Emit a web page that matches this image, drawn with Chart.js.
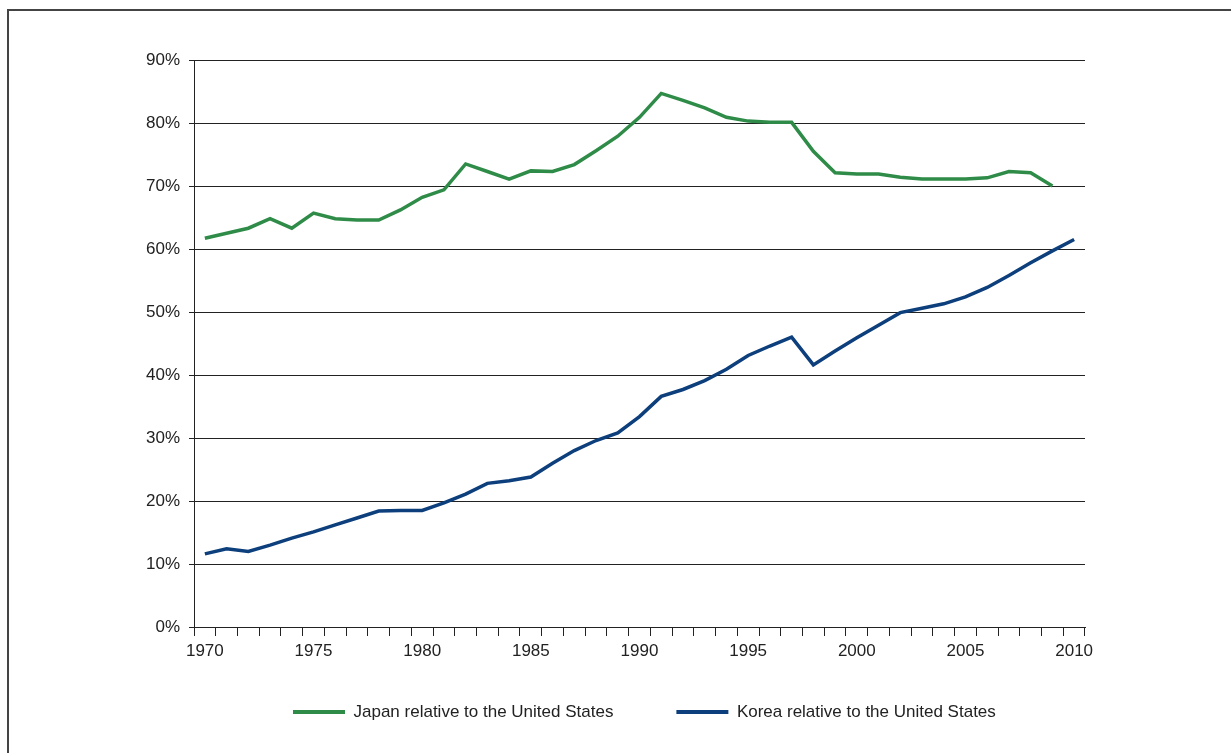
<!DOCTYPE html>
<html>
<head>
<meta charset="utf-8">
<script src="https://cdn.jsdelivr.net/npm/chart.js@4.4.0/dist/chart.umd.min.js"></script>
<style>
  body { margin: 0; background: #fff; }
  #wrap { position: relative; width: 1231px; height: 753px; overflow: hidden; }
  #frame { position: absolute; left: 7px; top: 9px; width: 1300px; height: 800px;
           border-left: 2px solid #444; border-top: 2px solid #444; }
  #myChart { position: absolute; left: 0; top: 0; }
</style>
</head>
<body>
<div id="wrap">
  <div id="frame"></div>
  <canvas id="myChart" width="1231" height="753"></canvas>
</div>
<script>
// categories
var years = ['1970','1971','1972','1973','1974','1975','1976','1977','1978','1979',
             '1980','1981','1982','1983','1984','1985','1986','1987','1988','1989',
             '1990','1991','1992','1993','1994','1995','1996','1997','1998','1999',
             '2000','2001','2002','2003','2004','2005','2006','2007','2008','2009','2010']

// series, percent
var japan = [61.7, 62.5, 63.3, 64.8, 63.3, 65.7, 64.8, 64.6, 64.6, 66.2,
             68.2, 69.4, 73.5, 72.3, 71.1, 72.4, 72.3, 73.4, 75.6, 77.9,
             80.9, 84.7, 83.6, 82.4, 80.9, 80.3, 80.1, 80.1, 75.5, 72.1,
             71.9, 71.9, 71.4, 71.1, 71.1, 71.1, 71.3, 72.3, 72.1, 70.0, null]
var korea = [11.6, 12.4, 12.0, 13.0, 14.1, 15.1, 16.2, 17.3, 18.4, 18.5,
             18.5, 19.7, 21.1, 22.8, 23.2, 23.8, 26.0, 28.0, 29.6, 30.8,
             33.4, 36.6, 37.7, 39.1, 40.9, 43.1, 44.6, 46.0, 41.6, 43.8,
             45.9, 47.9, 49.9, 50.6, 51.3, 52.4, 53.9, 55.8, 57.8, 59.7, 61.5]

var seriesNames = ['Japan relative to the United States', 'Korea relative to the United States']
var yTicks = [0, 10, 20, 30, 40, 50, 60, 70, 80, 90]

var FONT = "'Liberation Sans Narrow', 'Arial Narrow', 'Liberation Sans', sans-serif"
var green = '#2f8c48'
var blue = '#0c3f7c'

// move the legend to where the reference has it
const legendShift = {
    id: 'legendShift',
    afterLayout(chart) {
        chart.legend.left = 230
        chart.legend.right = 1231
        chart.legend.top = 640.5
        chart.legend.bottom = 753
    }
}

const data = {
    labels: years,
    datasets: [
        {
            label: seriesNames[0],
            data: japan,
            borderColor: green,
            backgroundColor: green,
            borderWidth: 3.5,
            pointRadius: 0,
            tension: 0,
        },
        {
            label: seriesNames[1],
            data: korea,
            borderColor: blue,
            backgroundColor: blue,
            borderWidth: 3.5,
            pointRadius: 0,
            tension: 0,
        },
    ],
}

const config = {
    type: 'line',
    data,
    plugins: [legendShift],
    options: {
        responsive: false,
        animation: false,
        layout: { padding: { left: 0, right: 146, top: 60, bottom: 41 } },
        plugins: {
            tooltip: { enabled: false },
            legend: {
                position: 'bottom',
                align: 'start',
                maxHeight: 40,
                labels: {
                    font: { family: FONT, size: 17 },
                    color: '#222',
                    boxWidth: 52,
                    boxHeight: 4,
                    padding: 63,
                    generateLabels: function (chart) {
                        var items = Chart.defaults.plugins.legend.labels.generateLabels(chart)
                        items.forEach(function (it) { it.lineWidth = 0; it.fillStyle = it.strokeStyle })
                        return items
                    }
                }
            }
        },
        scales: {
            x: {
                type: 'category',
                offset: true,
                afterFit: function (s) { s.height = 45 },
                grid: { offset: true, drawOnChartArea: false, tickLength: 9, color: '#222', lineWidth: 1 },
                border: { display: true, color: '#222', width: 1 },
                ticks: {
                    autoSkip: false,
                    maxRotation: 0,
                    padding: 5,
                    color: '#222',
                    font: { family: FONT, size: 17 },
                    callback: function (v, i) {
                        var lab = years[i]
                        return (parseInt(lab) % 5 === 0) ? lab : ''
                    }
                }
            },
            y: {
                min: 0,
                max: 90,
                afterFit: function (s) { s.width = 194 },
                afterBuildTicks: function (s) { s.ticks = yTicks.map(function (v) { return { value: v } }) },
                grid: { color: '#222', lineWidth: 1, tickLength: 5 },
                border: { display: true, color: '#222', width: 1 },
                ticks: {
                    padding: 9,
                    color: '#222',
                    font: { family: FONT, size: 17 },
                    callback: function (v) { return v + '%' }
                }
            }
        }
    }
}

var myChart = new Chart(document.getElementById('myChart'), config)
</script>
</body>
</html>
